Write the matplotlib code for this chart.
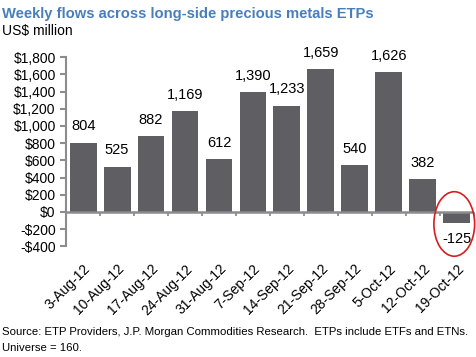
import numpy as np
import matplotlib.pyplot as plt
from matplotlib.patches import Ellipse

plt.rcParams['font.family'] = ['Liberation Sans', 'DejaVu Sans']

# Data
weeks = ['3-Aug-12', '10-Aug-12', '17-Aug-12', '24-Aug-12', '31-Aug-12', '7-Sep-12',
         '14-Sep-12', '21-Sep-12', '28-Sep-12', '5-Oct-12', '12-Oct-12', '19-Oct-12']
flows = [804, 525, 882, 1169, 612, 1390, 1233, 1659, 540, 1626, 382, -125]
yticks = list(range(-400, 1801, 200))

fig = plt.figure(figsize=(4.76, 3.57), dpi=100)
ax = fig.add_axes([0.139, 0.31, 0.856, 0.53])

x = np.arange(len(weeks))
ax.bar(x, flows, width=0.79, color='#5f5f63', zorder=2)

for xi, v in zip(x, flows):
    if v >= 0:
        ax.text(xi, v + 110, f'{v:,}', ha='center', va='bottom', fontsize=10.5)
    else:
        ax.text(xi, v - 110, f'{v:,}', ha='center', va='top', fontsize=10.5)

ax.set_xlim(-0.5, len(weeks) - 0.5)
ax.set_ylim(-400, 1800)
ax.set_yticks(yticks)
ax.set_yticklabels([f'-${abs(t):,}' if t < 0 else f'${t:,}' for t in yticks], fontsize=10)
ax.set_xticks(x)
ax.set_xticklabels(weeks, rotation=45, ha='right', va='top', rotation_mode='anchor', fontsize=10)
ax.tick_params(axis='x', length=0, pad=11)
ax.tick_params(axis='y', length=4, color='#8c8c8c', width=1.5)

for s in ['top', 'right', 'bottom']:
    ax.spines[s].set_visible(False)
ax.spines['left'].set_color('#8c8c8c')
ax.spines['left'].set_linewidth(1.5)

# zero line with category boundary ticks
ax.axhline(0, color='#8c8c8c', lw=1.8, zorder=3)
ax.vlines(np.arange(len(weeks) + 1) - 0.5, -45, 0, color='#8c8c8c', lw=1.3, zorder=3, clip_on=False)

# highlight ellipse on last week
ax.add_patch(Ellipse((x[-1] - 0.07, -140), 1.2, 750, fill=False, edgecolor='#d42020', lw=1.2,
                     clip_on=False, zorder=4))

fig.text(0.004, 0.962, 'Weekly flows across long-side precious metals ETPs', color='#4a7ebb',
         fontsize=10.6, fontweight='bold', va='center')
fig.text(0.004, 0.912, 'US$ million', fontsize=10, va='center')
fig.text(0.004, 0.07, 'Source: ETP Providers, J.P. Morgan Commodities Research.  ETPs include ETFs and ETNs.',
         fontsize=8.2, va='center')
fig.text(0.004, 0.025, 'Universe = 160.', fontsize=8.2, va='center')

fig.savefig('out.png', dpi=100)
